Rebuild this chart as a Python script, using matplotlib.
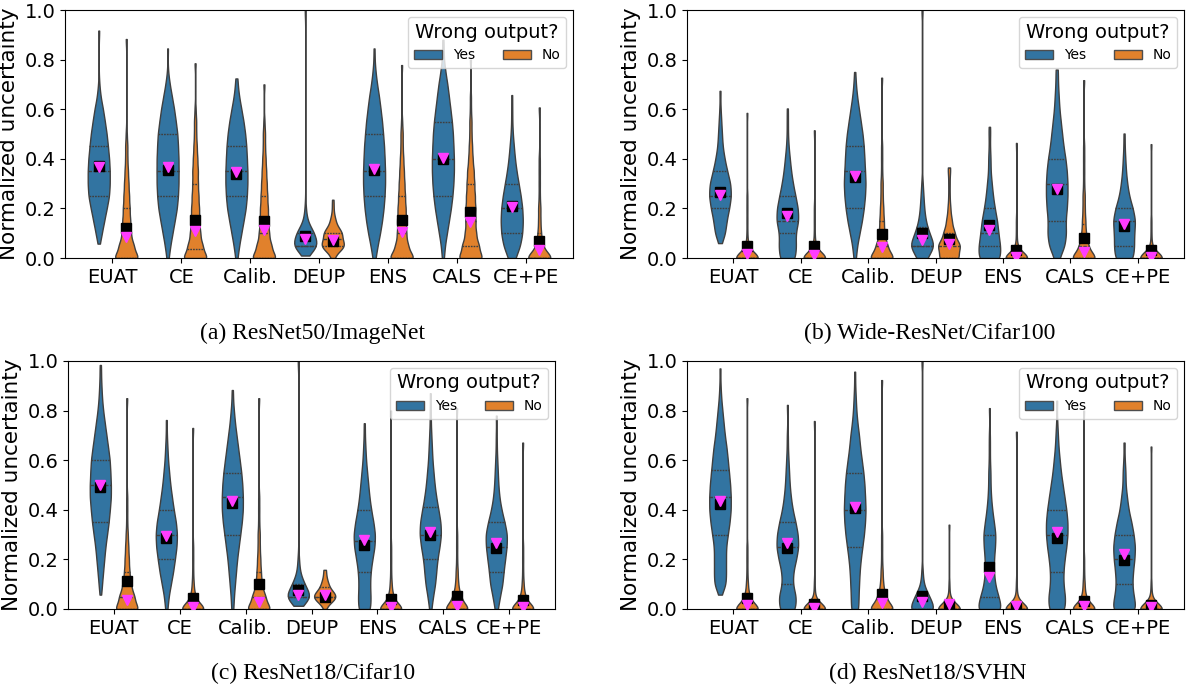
import numpy as np
import pandas as pd
import matplotlib
matplotlib.use("Agg")
import matplotlib.pyplot as plt
from matplotlib.patches import Patch
from matplotlib.lines import Line2D
import seaborn as sns

# categories and the uncertainty levels the counts refer to
methods = ["EUAT", "CE", "Calib.", "DEUP", "ENS", "CALS", "CE+PE"]
levels = [0.0, 0.05, 0.1, 0.15, 0.2, 0.25, 0.3, 0.35, 0.4, 0.45, 0.5,
          0.55, 0.6, 0.65, 0.7, 0.75, 0.8, 0.85, 0.9, 0.95, 1.0]

# (a) ResNet50/ImageNet - relative counts per level, plus min / max samples
yes_counts_a = [
    [0, 0, 5, 9, 13, 17, 18, 18, 17, 15, 13, 10, 7, 3, 1],
    [1, 5, 9, 13, 17, 19, 20, 20, 20, 19, 18, 15, 12, 8, 4, 1],
    [1, 5, 9, 13, 17, 19, 20, 20, 19, 18, 16, 13, 9, 5, 2],
    [0, 20, 14, 3, 1],
    [2, 7, 12, 16, 19, 21, 22, 22, 21, 20, 18, 16, 13, 10, 6, 3, 1],
    [1, 4, 8, 12, 16, 19, 21, 22, 22, 21, 20, 18, 15, 12, 9, 5, 2, 1],
    [6, 16, 20, 21, 20, 17, 13, 9, 6, 4, 2, 1, 1],
]
no_counts_a = [
    [22, 13, 8, 7, 6, 5, 4, 3, 2, 2, 1],
    [22, 13, 9, 8, 7, 6, 5, 5, 4, 3, 2, 2, 1],
    [22, 13, 9, 8, 7, 6, 5, 4, 3, 2, 2, 1],
    [2, 18, 14, 4, 1],
    [22, 11, 8, 8, 7, 6, 5, 4, 3, 2, 2, 1],
    [22, 15, 10, 9, 9, 8, 7, 6, 4, 3, 2, 2, 1, 1],
    [22, 6, 3, 2, 2, 1, 1, 1, 1],
]
yes_lo_a = [0.058, 0.0, 0.0, 0.01, 0.0, 0.0, 0.0]
yes_hi_a = [0.917, 0.845, 0.724, 1.0, 0.845, 0.88, 0.657]
no_hi_a = [0.883, 0.785, 0.70, 0.235, 0.778, 0.80, 0.607]
yes_mean_a = [0.37, 0.355, 0.34, 0.09, 0.355, 0.40, 0.21]
yes_tri_a = [0.365, 0.365, 0.345, 0.076, 0.36, 0.405, 0.205]
no_mean_a = [0.12, 0.152, 0.148, 0.07, 0.152, 0.186, 0.069]
no_tri_a = [0.085, 0.109, 0.112, 0.072, 0.105, 0.147, 0.031]

# (b) Wide-ResNet/Cifar100
yes_counts_b = [
    [0, 0, 8, 10, 14, 17, 16, 11, 7, 4, 3, 2, 1],
    [12, 14, 13, 18, 17, 13, 9, 6, 4, 2, 1, 1],
    [1, 4, 8, 12, 15, 17, 18, 17, 16, 15, 13, 10, 7, 4, 2],
    [6, 18, 10, 5, 3, 2, 1],
    [18, 18, 15, 13, 9, 6, 4, 2, 2, 1, 1],
    [3, 12, 14, 13, 15, 16, 16, 15, 13, 10, 8, 6, 4, 3, 2, 1],
    [14, 16, 16, 18, 14, 8, 5, 3, 2, 1],
]
no_counts_b = [
    [30, 3, 1, 1, 1, 1],
    [30, 3, 1, 1, 1],
    [22, 10, 5, 4, 3, 2, 2, 1, 1, 1],
    [14, 16, 8, 4, 2, 1, 1, 1],
    [30, 2, 1, 1],
    [22, 8, 4, 3, 2, 2, 1, 1, 1, 1],
    [30, 2, 1, 1],
]
yes_lo_b = [0.06, 0.0, 0.0, 0.0, 0.0, 0.0, 0.0]
yes_hi_b = [0.674, 0.603, 0.75, 1.0, 0.529, 0.76, 0.502]
no_hi_b = [0.585, 0.515, 0.727, 0.365, 0.464, 0.717, 0.459]
yes_mean_b = [0.265, 0.18, 0.325, 0.1, 0.135, 0.28, 0.128]
yes_tri_b = [0.253, 0.168, 0.33, 0.071, 0.112, 0.28, 0.136]
no_mean_b = [0.05, 0.047, 0.098, 0.078, 0.034, 0.079, 0.031]
no_tri_b = [0.015, 0.012, 0.044, 0.058, 0.005, 0.024, 0.005]

# (c) ResNet18/Cifar10
yes_counts_c = [
    [0, 0, 3, 5, 7, 9, 12, 15, 17, 19, 19, 18, 17, 14, 11, 8, 5, 3, 2, 1],
    [1, 4, 8, 12, 15, 18, 19, 17, 13, 10, 7, 5, 3, 2, 1],
    [1, 3, 5, 7, 9, 12, 15, 18, 20, 20, 19, 17, 14, 11, 8, 5, 3, 1],
    [0, 18, 8, 2, 1],
    [10, 11, 10, 11, 14, 18, 19, 16, 12, 9, 7, 5, 3, 2, 1],
    [1, 5, 9, 11, 13, 17, 20, 19, 15, 11, 8, 6, 4, 3, 2, 1, 1],
    [2, 7, 12, 14, 17, 20, 21, 16, 10, 6, 4, 3, 2, 1, 1],
]
no_counts_c = [
    [22, 14, 8, 5, 4, 3, 2, 1, 1, 1],
    [26, 5, 2, 1, 1, 1],
    [22, 12, 6, 4, 3, 2, 2, 1, 1, 1],
    [1, 18, 5, 1],
    [26, 5, 2, 1, 1, 1],
    [24, 8, 3, 2, 1, 1, 1],
    [26, 5, 2, 1, 1, 1],
]
yes_lo_c = [0.058, 0.0, 0.0, 0.013, 0.0, 0.0, 0.0]
yes_hi_c = [0.984, 0.762, 0.883, 1.0, 0.749, 0.87, 0.78]
no_hi_c = [0.85, 0.73, 0.85, 0.158, 0.80, 0.81, 0.671]
yes_mean_c = [0.491, 0.285, 0.427, 0.078, 0.259, 0.30, 0.246]
yes_tri_c = [0.50, 0.295, 0.437, 0.058, 0.279, 0.309, 0.266]
no_mean_c = [0.111, 0.043, 0.10, 0.048, 0.042, 0.054, 0.038]
no_tri_c = [0.038, 0.01, 0.027, 0.058, 0.01, 0.012, 0.008]

# (d) ResNet18/SVHN
yes_counts_d = [
    [0, 0, 10, 10, 10, 10, 13, 16, 18, 18, 17, 15, 13, 11, 8, 6, 4, 2, 1],
    [13, 15, 9, 10, 15, 19, 18, 14, 9, 6, 4, 3, 2, 1, 1],
    [6, 7, 8, 9, 11, 14, 17, 19, 20, 19, 18, 16, 13, 10, 8, 5, 3, 2, 1],
    [18, 10, 2, 1],
    [22, 16, 10, 8, 8, 10, 11, 8, 5, 3, 2, 2, 1, 1, 1],
    [13, 14, 11, 11, 13, 16, 18, 18, 16, 13, 10, 7, 5, 3, 2, 1],
    [16, 13, 11, 12, 14, 15, 13, 10, 6, 4, 2, 2, 1],
]
no_counts_d = [
    [26, 5, 2, 1, 1, 1],
    [30, 2, 1],
    [24, 8, 3, 2, 1, 1, 1],
    [30, 2, 1],
    [30, 2, 1],
    [26, 4, 2, 1, 1],
    [30, 2, 1],
]
yes_lo_d = [0.058, 0.0, 0.0, 0.0, 0.0, 0.0, 0.0]
yes_hi_d = [0.97, 0.823, 0.957, 1.0, 0.81, 0.84, 0.671]
no_hi_d = [0.85, 0.758, 0.923, 0.34, 0.715, 0.80, 0.655]
yes_mean_d = [0.424, 0.246, 0.407, 0.051, 0.169, 0.286, 0.196]
yes_tri_d = [0.437, 0.266, 0.413, 0.028, 0.128, 0.309, 0.223]
no_mean_d = [0.046, 0.021, 0.06, 0.017, 0.006, 0.031, 0.015]
no_tri_d = [0.015, 0.005, 0.025, 0.021, 0.011, 0.012, 0.01]

captions = ["(a) ResNet50/ImageNet", "(b) Wide-ResNet/Cifar100",
            "(c) ResNet18/Cifar10", "(d) ResNet18/SVHN"]


def fixed_bw(h):
    # kde bandwidth fixed in uncertainty units, whatever the spread
    return lambda kde: h / np.std(kde.dataset, ddof=1)


def build_frame(yes_counts, no_counts, yes_lo, yes_hi, no_hi):
    rows = []
    for i, m in enumerate(methods):
        yes_vals = list(np.repeat(levels[:len(yes_counts[i])], yes_counts[i]))
        yes_vals += [yes_lo[i], yes_hi[i]]
        no_vals = list(np.repeat(levels[:len(no_counts[i])], no_counts[i]))
        no_vals += [no_hi[i]]
        rows += [(m, "Yes", v) for v in yes_vals]
        rows += [(m, "No", v) for v in no_vals]
    return pd.DataFrame(rows, columns=["method", "Wrong output?", "uncertainty"])


def drop_side(ax, n_coll, n_line, side):
    # remove the violins (and their quartile lines) dodged to one side
    new = list(ax.collections[n_coll:]) + list(ax.lines[n_line:])
    for art in new:
        if isinstance(art, Line2D):
            xs = np.asarray(art.get_xdata(), float)
        else:
            xs = np.concatenate([pth.vertices[:, 0] for pth in art.get_paths()])
        c = xs.mean()
        if (c - np.round(c)) * side > 0:
            art.remove()


W, H = 1187, 700
# axes boxes in pixels: left, right, top, bottom
boxes = [(65, 573, 10, 258), (687, 1184, 10, 258),
         (68, 555, 361, 609), (687, 1184, 361, 609)]
caption_pos = [(313, 339), (930, 339), (313, 679), (928, 679)]

panels = [
    (yes_counts_a, no_counts_a, yes_lo_a, yes_hi_a, no_hi_a,
     yes_mean_a, yes_tri_a, no_mean_a, no_tri_a),
    (yes_counts_b, no_counts_b, yes_lo_b, yes_hi_b, no_hi_b,
     yes_mean_b, yes_tri_b, no_mean_b, no_tri_b),
    (yes_counts_c, no_counts_c, yes_lo_c, yes_hi_c, no_hi_c,
     yes_mean_c, yes_tri_c, no_mean_c, no_tri_c),
    (yes_counts_d, no_counts_d, yes_lo_d, yes_hi_d, no_hi_d,
     yes_mean_d, yes_tri_d, no_mean_d, no_tri_d),
]

colors = sns.color_palette(n_colors=2, desat=0.75)
magenta = "#ff3cff"
# (bandwidth, side to throw away): Yes violins sit left, No violins right
passes = [(0.03, 1), (0.024, -1)]

fig = plt.figure(figsize=(W / 100, H / 100), dpi=100)

for k, p in enumerate(panels):
    l, r, t, b = boxes[k]
    ax = fig.add_axes([l / W, 1 - b / H, (r - l) / W, (b - t) / H])
    df = build_frame(*p[:5])
    for h, side in passes:
        n_coll, n_line = len(ax.collections), len(ax.lines)
        sns.violinplot(data=df, x="method", y="uncertainty",
                       hue="Wrong output?", order=methods,
                       hue_order=["Yes", "No"], palette=colors,
                       saturation=1, cut=0, inner="quart",
                       density_norm="width", width=0.8, gap=0.2,
                       linewidth=1, bw_method=fixed_bw(h),
                       legend=False, ax=ax)
        drop_side(ax, n_coll, n_line, side)

    x = np.arange(len(methods))
    ax.plot(x - 0.2, p[5], "s", color="black", ms=6.5, zorder=5)
    ax.plot(x - 0.2, p[6], "v", color=magenta, ms=7.2, zorder=6)
    ax.plot(x + 0.2, p[7], "s", color="black", ms=6.5, zorder=5)
    ax.plot(x + 0.2, p[8], "v", color=magenta, ms=7.2, zorder=6)

    ax.set_xlim(-0.69, 6.69)
    ax.set_ylim(0, 1.0)
    ax.set_xlabel("")
    ax.set_ylabel("Normalized uncertainty", fontsize=15.5)
    ax.tick_params(labelsize=14)

    handles = [Patch(facecolor=colors[0], edgecolor=".3", label="Yes"),
               Patch(facecolor=colors[1], edgecolor=".3", label="No")]
    ax.legend(handles=handles, title="Wrong output?", ncol=2,
              loc="upper right", fontsize=10, title_fontsize=14)

    cx, cy = caption_pos[k]
    fig.text(cx / W, 1 - cy / H, captions[k], ha="center", va="baseline",
             family="Liberation Serif", fontsize=17)

fig.savefig("out.png", dpi=100)
